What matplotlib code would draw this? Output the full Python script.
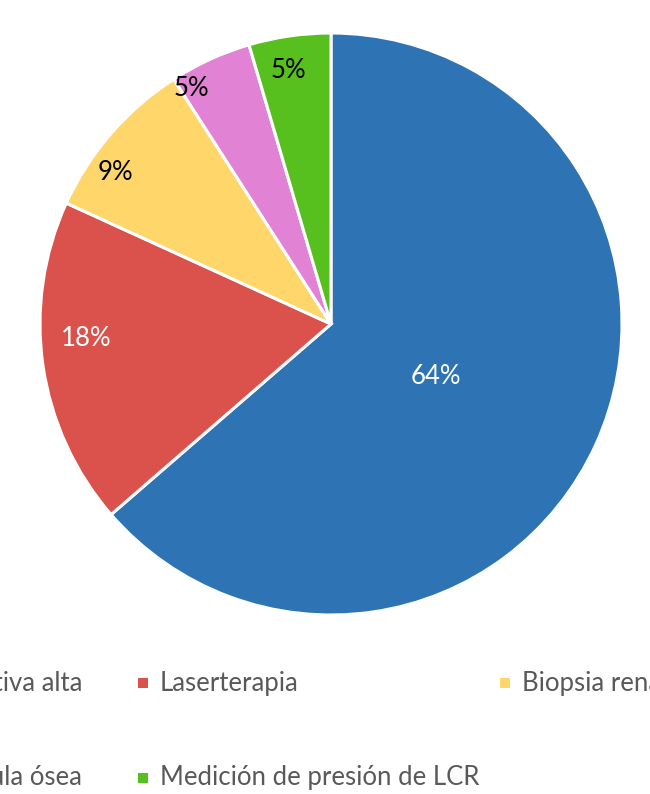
import matplotlib.pyplot as plt
from matplotlib.patches import Rectangle

plt.rcParams['font.family'] = ['Lato', 'DejaVu Sans']

labels = ['Endoscopia digestiva alta', 'Laserterapia', 'Biopsia renal',
          'Biopsia de médula ósea', 'Medición de presión de LCR']
counts = [14, 4, 2, 1, 1]
colors = ['#2E74B5', '#DA524B', '#FED66A', '#E282D4', '#57C01F']
pct_colors = ['white', 'white', 'black', 'black', 'black']

W, H = 650, 794
fig = plt.figure(figsize=(W / 100, H / 100), dpi=100)

# pie axes: center (331, 324) px, radius ~291 px
cx, cy, r = 331, 324, 291
ax = fig.add_axes([(cx - r) / W, 1 - (cy + r) / H, 2 * r / W, 2 * r / H])
wedges, texts, autotexts = ax.pie(
    counts, colors=colors, startangle=90, counterclock=False,
    autopct='%1.0f%%', pctdistance=0.62,
    wedgeprops=dict(edgecolor='white', linewidth=2.2),
    textprops=dict(fontsize=18.5))
for t, c in zip(autotexts, pct_colors):
    t.set_color(c)
# label positions as in the original
autotexts[0].set_position((0.36, -0.18))
autotexts[1].set_position((-0.84, -0.05))
autotexts[2].set_position((-0.74, 0.52))
autotexts[3].set_position((-0.48, 0.81))
autotexts[4].set_position((-0.145, 0.87))
ax.set_xlim(-1, 1)
ax.set_ylim(-1, 1)
ax.set_aspect('equal')
ax.axis('off')

# legend drawn by hand, clipped by figure edges like the reference
col_x = [-219, 143, 505]
row_y = [683, 778]
for i, (lab, col) in enumerate(zip(labels, colors)):
    row, c = divmod(i, 3)
    mx, my = col_x[c], row_y[row]
    fig.patches.append(Rectangle(((mx - 5) / W, 1 - (my + 5) / H), 10 / W, 10 / H,
                                 transform=fig.transFigure, facecolor=col,
                                 edgecolor='none'))
    if c == 0:
        # first column runs off the left edge; its text ends near x=82
        fig.text(82 / W, 1 - my / H, lab, fontsize=18.5, color='#595959',
                 va='center', ha='right')
    else:
        fig.text((mx + 17) / W, 1 - my / H, lab, fontsize=18.5, color='#595959',
                 va='center', ha='left')

fig.savefig('out.png', dpi=100)
